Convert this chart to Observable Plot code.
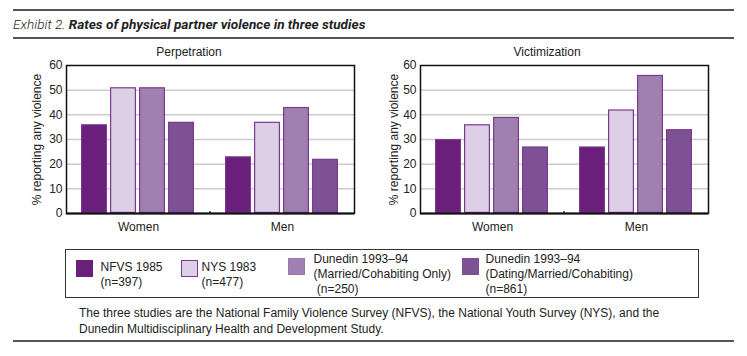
<!DOCTYPE html>
<html>
<head>
<meta charset="utf-8">
<script src="https://cdn.jsdelivr.net/npm/d3@7"></script>
<script src="https://cdn.jsdelivr.net/npm/@observablehq/plot@0.6"></script>
<style>
  html, body { margin: 0; padding: 0; background: #fff; }
  #root { position: relative; width: 747px; height: 356px; overflow: hidden; font-family: "Liberation Sans", Arial, sans-serif; color: #222; }
  .abs { position: absolute; }
  .hline { position: absolute; left: 13px; width: 721px; height: 2px; background: #555; }
  .title { left: 13px; top: 16px; font-size: 13.6px; font-style: italic; white-space: nowrap; font-family: "Liberation Sans Narrow", "Roboto", sans-serif; }
  .title .ex { font-weight: 300; }
  .title b { font-weight: bold; }
  .ptitle { font-size: 12px; transform: translateX(-50%); white-space: nowrap; }
  .legend { left: 65px; top: 249px; width: 634px; height: 49px; border: 1.5px solid #333; box-sizing: border-box; }
  .sw { position: absolute; width: 17px; height: 17px; box-sizing: border-box; border: 1.5px solid #7a3a8e; }
  .lt { position: absolute; font-size: 12px; line-height: 15px; white-space: pre; }
  .foot { left: 79px; top: 306px; font-size: 12px; line-height: 15.5px; width: 620px; }
</style>
</head>
<body>
<div id="root">
  <div class="hline" style="top:9px"></div>
  <div class="abs title"><span class="ex">Exhibit 2.</span> <b>Rates of physical partner violence in three studies</b></div>
  <div class="hline" style="top:37px"></div>
  <div id="perp" class="abs" style="left:0;top:40px"></div>
  <div id="vict" class="abs" style="left:370px;top:40px"></div>
  <div class="abs ptitle" style="left:189px;top:45px">Perpetration</div>
  <div class="abs ptitle" style="left:547px;top:45px">Victimization</div>
  <div id="legend" class="abs legend"></div>
  <div class="abs foot">The three studies are the National Family Violence Survey (NFVS), the National Youth Survey (NYS), and the<br>Dunedin Multidisciplinary Health and Development Study.</div>
  <div class="hline" style="top:340px"></div>
</div>
<script>
// ---- data ----
const groups = ["Women", "Men"];
const studies = ["NFVS 1985", "NYS 1983", "Dunedin Married/Cohabiting", "Dunedin Dating/Married/Cohabiting"];
const perpWomen = [36, 51, 51, 37];
const perpMen = [23, 37, 43, 22];
const victWomen = [30, 36, 39, 27];
const victMen = [27, 42, 56, 34];
const yTicks = [0, 10, 20, 30, 40, 50, 60];
const legendLabels = [
  "NFVS 1985\n(n=397)",
  "NYS 1983\n(n=477)",
  "Dunedin 1993\u201394\n(Married/Cohabiting Only)\n (n=250)",
  "Dunedin 1993\u201394\n(Dating/Married/Cohabiting)\n(n=861)"
];
const colors = ["#6a1f7b", "#ddd0e6", "#a080b1", "#7e5194"];
const swatchStrokes = ["#6a1f7b", "#7a3a8e", "#9a78ad", "#7e5194"];
const strokeColor = "#7a3a8e";

function rows(w, m) {
  const out = [];
  studies.forEach((s, i) => out.push({group: "Women", study: s, value: w[i]}));
  studies.forEach((s, i) => out.push({group: "Men", study: s, value: m[i]}));
  return out;
}

function panel(data, opts) {
  return Plot.plot({
    width: opts.width,
    height: 210,
    marginLeft: opts.marginLeft,
    marginRight: opts.marginRight,
    marginTop: 25,
    marginBottom: 37,
    style: {fontFamily: "'Liberation Sans', Arial, sans-serif", fontSize: "12px", color: "#222", background: "transparent", overflow: "visible"},
    fx: {domain: groups, padding: 0, label: null, axis: "bottom", tickSize: 0, tickPadding: 9},
    x: {domain: studies, paddingInner: 0.103, paddingOuter: 0.534, axis: null},
    y: {domain: [0, 60], ticks: yTicks, tickSize: 0, tickPadding: 4, label: "% reporting any violence", labelAnchor: "center", labelOffset: opts.labelOffset, labelArrow: false},
    color: {domain: studies, range: colors},
    marks: [
      Plot.ruleY(yTicks.filter(t => t > 0 && t < 60), {stroke: "#cccccc", strokeWidth: 1.5}),
      Plot.barY(data, {fx: "group", x: "study", y: "value", fill: "study", stroke: strokeColor, strokeWidth: 1.2, inset: 0.6}),
      Plot.ruleY([0], {stroke: "#111", strokeWidth: 2}),
      Plot.ruleX([{g: "Men", s: studies[0]}], {fx: "g", x: "s", y1: 0, y2: 0.7, dx: -28.5, stroke: "#111", strokeWidth: 1.5}),
      Plot.frame({facet: "super", stroke: "#111", strokeWidth: 1.5})
    ]
  });
}

document.getElementById("perp").append(panel(rows(perpWomen, perpMen), {width: 370, marginLeft: 66, marginRight: 16, labelOffset: 34}));
document.getElementById("vict").append(panel(rows(victWomen, victMen), {width: 377, marginLeft: 49, marginRight: 39, labelOffset: 31}));

// legend
const lg = document.getElementById("legend");
const swPos = [{sx: 9.5, sy: 9.5, tx: 34.5, ty: 10}, {sx: 114.5, sy: 9.5, tx: 135.5, ty: 10}, {sx: 221.5, sy: 7.5, tx: 247.5, ty: 2}, {sx: 395.5, sy: 7.5, tx: 419.5, ty: 2}];
legendLabels.forEach((lab, i) => {
  const sw = document.createElement("div");
  sw.className = "sw";
  sw.style.left = swPos[i].sx + "px";
  sw.style.top = swPos[i].sy + "px";
  sw.style.background = colors[i];
  sw.style.borderColor = swatchStrokes[i];
  lg.append(sw);
  const t = document.createElement("div");
  t.className = "lt";
  t.style.left = swPos[i].tx + "px";
  t.style.top = swPos[i].ty + "px";
  t.textContent = lab;
  lg.append(t);
});
</script>
</body>
</html>
